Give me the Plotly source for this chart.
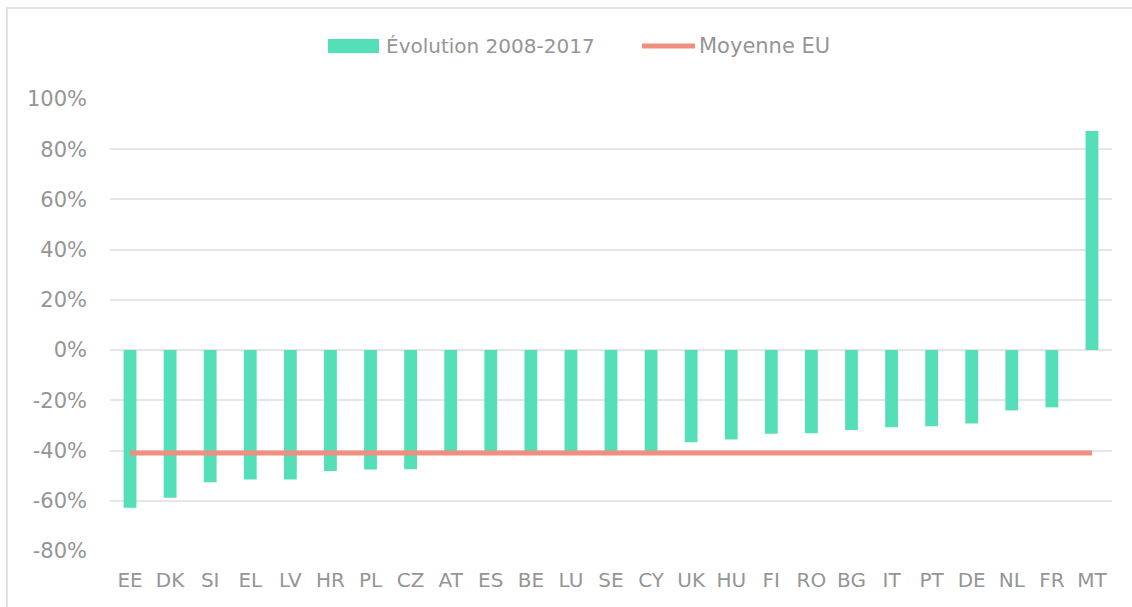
import plotly.graph_objects as go

countries = ["EE", "DK", "SI", "EL", "LV", "HR", "PL", "CZ", "AT", "ES", "BE", "LU", "SE",
             "CY", "UK", "HU", "FI", "RO", "BG", "IT", "PT", "DE", "NL", "FR", "MT"]
evolution = [-0.628, -0.588, -0.526, -0.515, -0.515, -0.481, -0.475, -0.474, -0.41, -0.41,
             -0.41, -0.41, -0.41, -0.41, -0.367, -0.356, -0.333, -0.331, -0.318, -0.307,
             -0.303, -0.292, -0.240, -0.228, 0.873]
eu_average = -0.41
y_ticks = [-0.8, -0.6, -0.4, -0.2, 0, 0.2, 0.4, 0.6, 0.8, 1.0]
y_tick_labels = ["-80%", "-60%", "-40%", "-20%", "0%", "20%", "40%", "60%", "80%", "100%"]
series_names = ["Évolution 2008-2017", "Moyenne EU"]

FONT = "DejaVu Sans"
GRAY = "#959595"
GREEN = "#55dfb9"
RED = "#f08e80"
FS = 20

fig = go.Figure()
fig.add_trace(go.Bar(x=countries, y=evolution, name=series_names[0], showlegend=False,
                     marker=dict(color=GREEN, line=dict(width=0))))
fig.add_trace(go.Scatter(x=countries, y=[eu_average] * len(countries), mode="lines",
                         name=series_names[1], showlegend=False,
                         line=dict(color=RED, width=5)))

W, H = 1132, 607
ml, mr, mt, mb = 110, 20, 99, 56
pw, ph = W - ml - mr, H - mt - mb


def px(x):
    return (x - ml) / pw


def py(y):
    return (H - mb - y) / ph


LEG_Y = 46
shapes = [
    dict(type="rect", xref="paper", yref="paper",
         x0=px(7), x1=1.2, y0=-0.3, y1=py(8),
         line=dict(color="#e3e3e3", width=2), layer="below"),
    dict(type="rect", xref="paper", yref="paper",
         x0=px(328), x1=px(379), y0=py(LEG_Y + 7), y1=py(LEG_Y - 7),
         fillcolor=GREEN, line=dict(width=0)),
    dict(type="line", xref="paper", yref="paper",
         x0=px(642), x1=px(695), y0=py(LEG_Y), y1=py(LEG_Y),
         line=dict(color=RED, width=5)),
]
annotations = [
    dict(text=series_names[0], xref="paper", yref="paper", x=px(384), y=py(LEG_Y),
         xanchor="left", yanchor="middle", showarrow=False,
         font=dict(family=FONT, size=FS, color=GRAY)),
    dict(text=series_names[1], xref="paper", yref="paper", x=px(697), y=py(LEG_Y),
         xanchor="left", yanchor="middle", showarrow=False,
         font=dict(family=FONT, size=FS + 1, color=GRAY)),
]

fig.update_layout(
    width=W, height=H,
    margin=dict(l=ml, r=mr, t=mt, b=mb),
    paper_bgcolor="white", plot_bgcolor="white",
    font=dict(family=FONT, size=FS, color=GRAY),
    bargap=0.68,
    showlegend=False,
    xaxis=dict(showgrid=False, showline=False, ticks="", tickfont=dict(size=FS, color=GRAY),
               ticklabelstandoff=15),
    yaxis=dict(range=[-0.8, 1.0], tickvals=y_ticks, ticktext=y_tick_labels, showgrid=True,
               gridcolor="#e6e6e6", gridwidth=1.5, zeroline=False, showline=False,
               tickfont=dict(size=FS + 1, color=GRAY), ticklabelstandoff=22),
    shapes=shapes,
    annotations=annotations,
)

fig.write_html("out.html", config={"displayModeBar": False},
               post_script="document.body.style.margin='0';")
